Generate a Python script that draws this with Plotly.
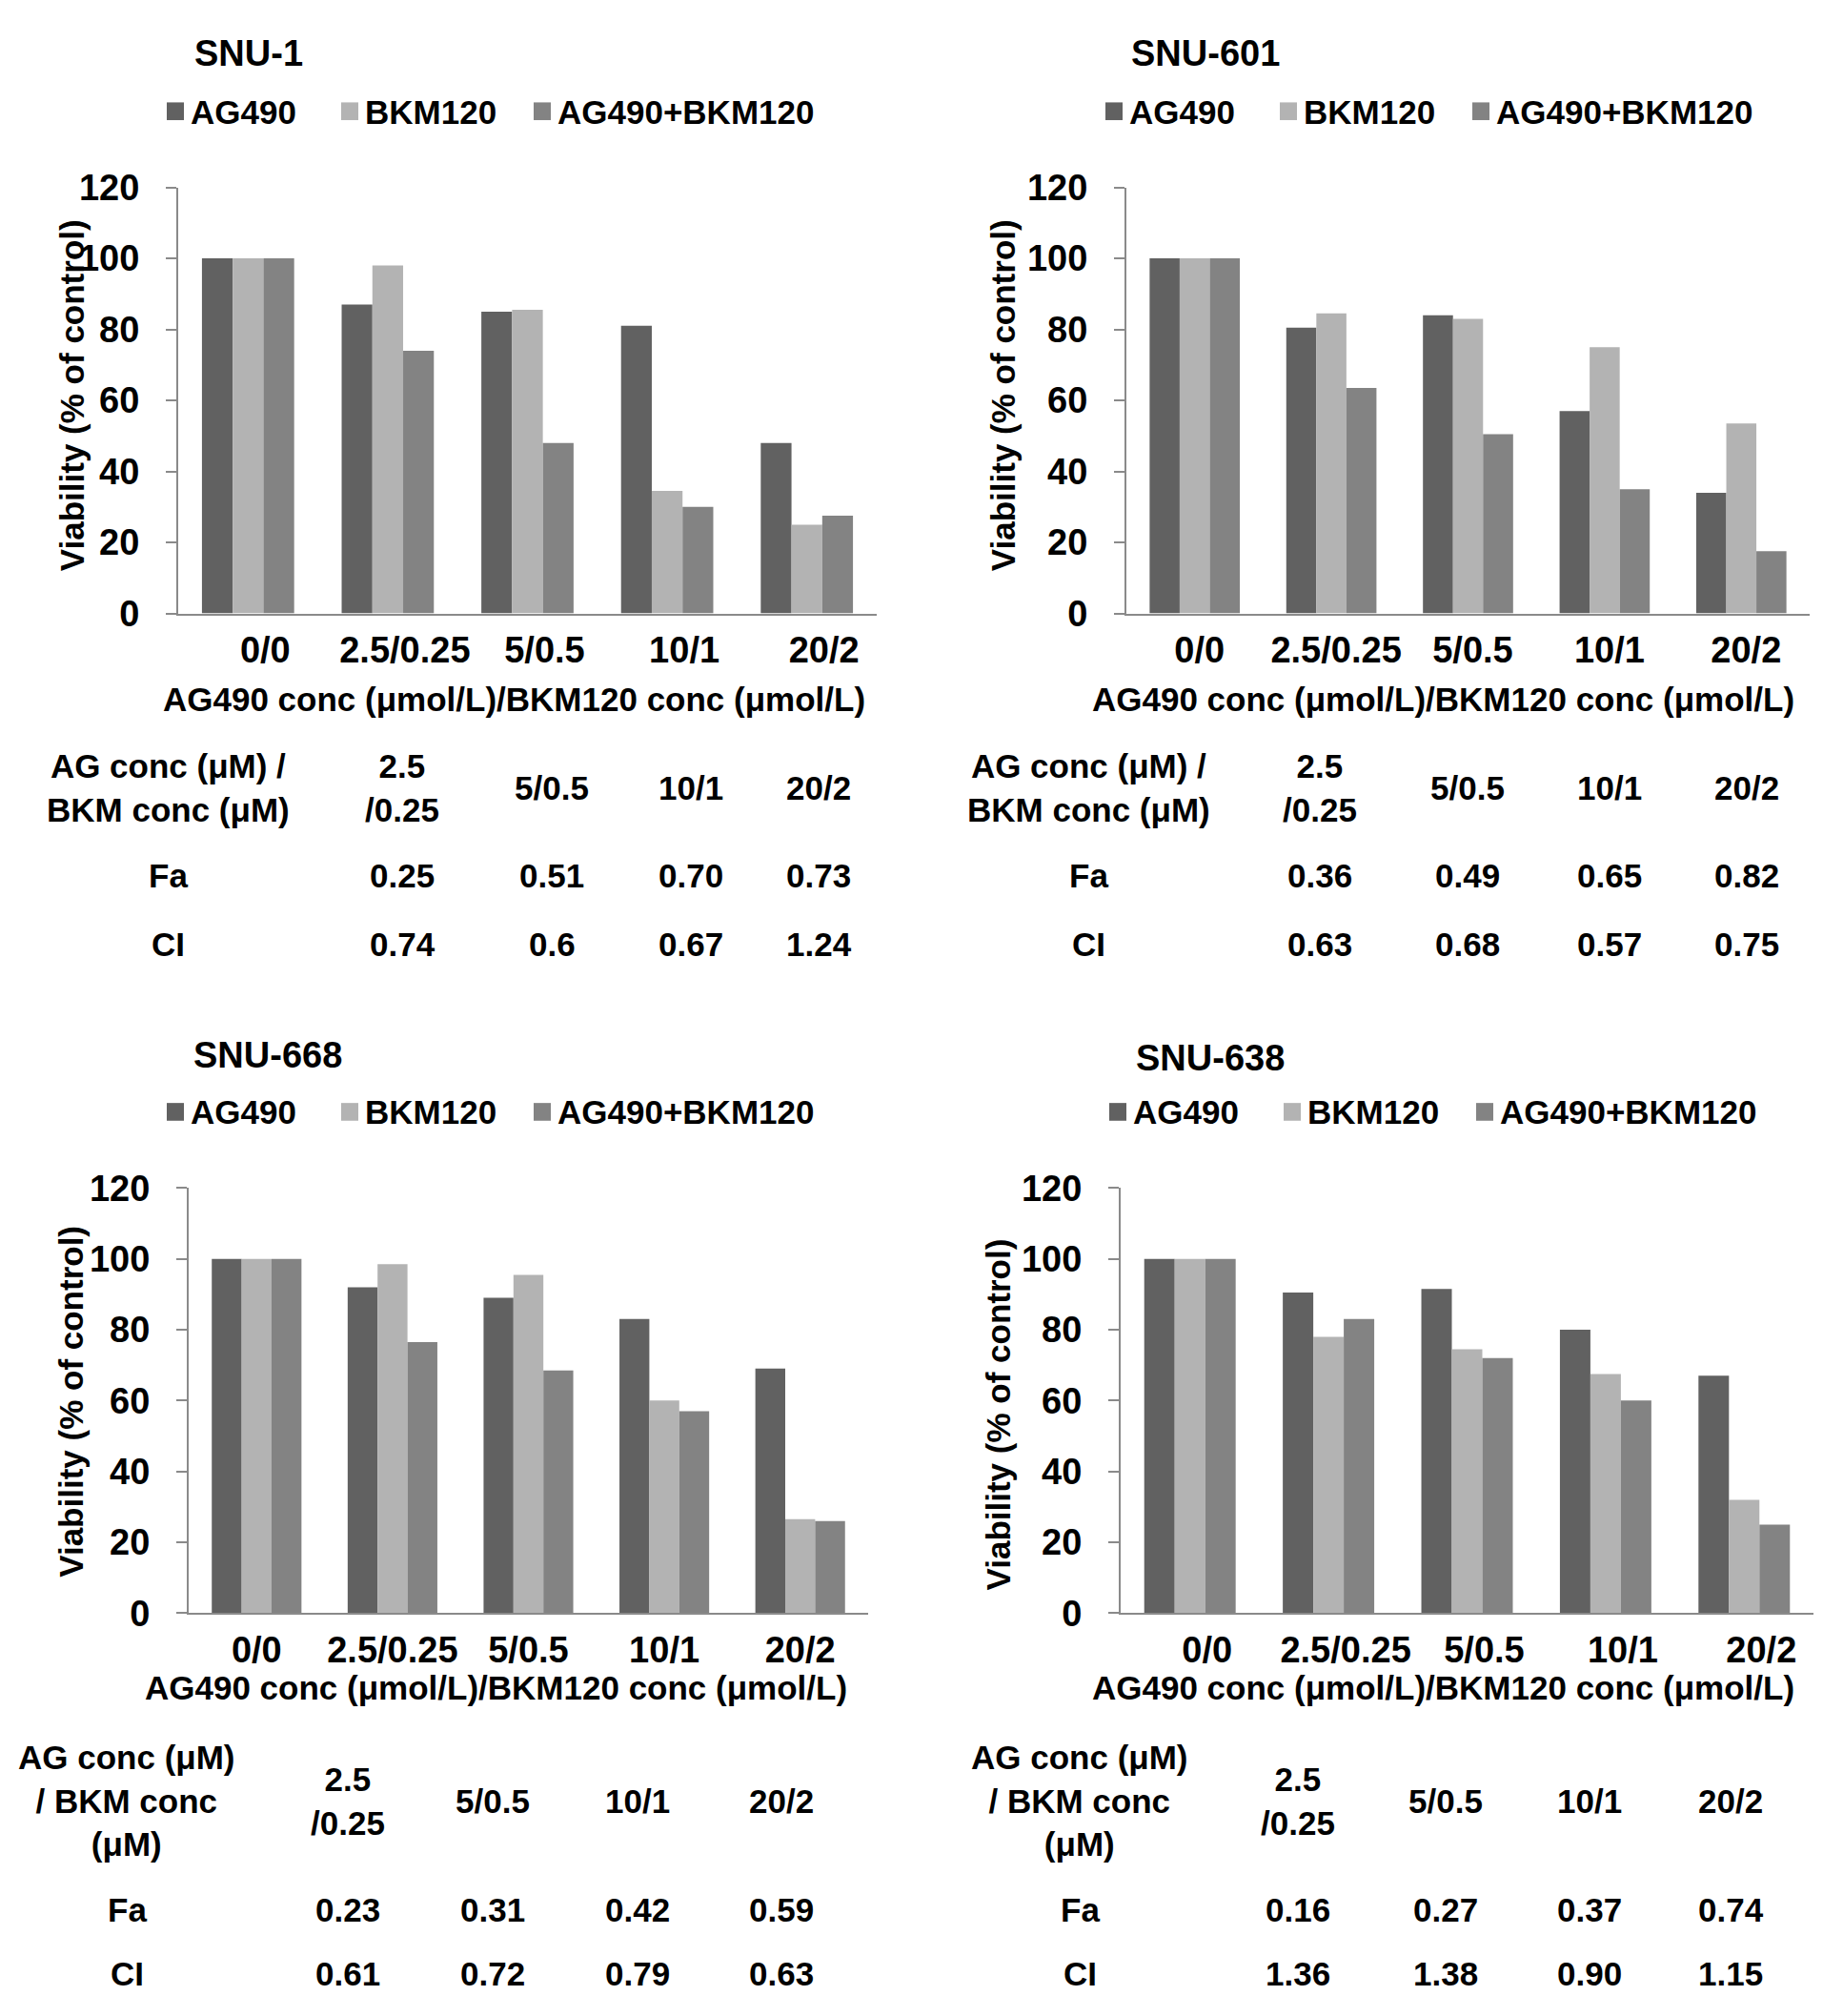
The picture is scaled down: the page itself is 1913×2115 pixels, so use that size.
import plotly.graph_objects as go

# canvas size in px
W, H = 1913, 2115

# data
categories = ["0/0", "2.5/0.25", "5/0.5", "10/1", "20/2"]
series_names = ["AG490", "BKM120", "AG490+BKM120"]
series_colors = ["#616161", "#b3b3b3", "#838383"]
cell_lines = ["SNU-1", "SNU-601", "SNU-668", "SNU-638"]

snu1_ag490 = [100, 87, 85, 81, 48]
snu1_bkm120 = [100, 98, 85.5, 34.5, 25]
snu1_combo = [100, 74, 48, 30, 27.5]

snu601_ag490 = [100, 80.5, 84, 57, 34]
snu601_bkm120 = [100, 84.5, 83, 75, 53.5]
snu601_combo = [100, 63.5, 50.5, 35, 17.5]

snu668_ag490 = [100, 92, 89, 83, 69]
snu668_bkm120 = [100, 98.5, 95.5, 60, 26.5]
snu668_combo = [100, 76.5, 68.5, 57, 26]

snu638_ag490 = [100, 90.5, 91.5, 80, 67]
snu638_bkm120 = [100, 78, 74.5, 67.5, 32]
snu638_combo = [100, 83, 72, 60, 25]

table_cols = ["2.5<br>/0.25", "5/0.5", "10/1", "20/2"]
snu1_fa = ["0.25", "0.51", "0.70", "0.73"]
snu1_ci = ["0.74", "0.6", "0.67", "1.24"]
snu601_fa = ["0.36", "0.49", "0.65", "0.82"]
snu601_ci = ["0.63", "0.68", "0.57", "0.75"]
snu668_fa = ["0.23", "0.31", "0.42", "0.59"]
snu668_ci = ["0.61", "0.72", "0.79", "0.63"]
snu638_fa = ["0.16", "0.27", "0.37", "0.74"]
snu638_ci = ["1.36", "1.38", "0.90", "1.15"]

y_title = "Viability (% of control)"
x_title = "AG490 conc (μmol/L)/BKM120 conc (μmol/L)"
head_top = "AG conc (μM) /<br>BKM conc (μM)"
head_bottom = "AG conc (μM)<br>/ BKM conc<br>(μM)"

values = [
    [snu1_ag490, snu1_bkm120, snu1_combo],
    [snu601_ag490, snu601_bkm120, snu601_combo],
    [snu668_ag490, snu668_bkm120, snu668_combo],
    [snu638_ag490, snu638_bkm120, snu638_combo],
]
fa_rows = [snu1_fa, snu601_fa, snu668_fa, snu638_fa]
ci_rows = [snu1_ci, snu601_ci, snu668_ci, snu638_ci]


def fx(px):
    return px / W


def fy(py):
    return 1 - py / H


FONT = "Liberation Sans, Arial, sans-serif"
AXIS_GRAY = "#8a8a8a"

# pixel layout of each panel
layout_px = [
    dict(l=179, r=912, y0=627, y1=171, title=(253, 28), sw=[167, 350, 552], leg_y=90,
         shift=18, ytit=(67, 394), xtit=(531, 719), head=head_top, head_y=814,
         lab_x=168, cols=[414, 571, 717, 851], fa_y=908, ci_y=981),
    dict(l=1174, r=1891, y0=627, y1=171, title=(1257, 28), sw=[1152, 1335, 1537], leg_y=90,
         shift=5, ytit=(1044, 394), xtit=(1506, 719), head=head_top, head_y=814,
         lab_x=1134, cols=[1377, 1532, 1681, 1825], fa_y=908, ci_y=981),
    dict(l=190, r=903, y0=1697, y1=1242, title=(273, 1100), sw=[167, 350, 552], leg_y=1161,
         shift=0, ytit=(67, 1471), xtit=(512, 1777), head=head_bottom, head_y=1898,
         lab_x=125, cols=[357, 509, 661, 812], fa_y=2014, ci_y=2083),
    dict(l=1168, r=1895, y0=1697, y1=1242, title=(1262, 1103), sw=[1156, 1339, 1541], leg_y=1161,
         shift=18, ytit=(1040, 1485), xtit=(1506, 1777), head=head_bottom, head_y=1898,
         lab_x=1125, cols=[1354, 1509, 1660, 1808], fa_y=2014, ci_y=2083),
]

fig = go.Figure()
annotations = []
shapes = []
layout = {}


def note(text, xy, size=35, angle=0, xanchor="center"):
    annotations.append(dict(
        text=text, x=fx(xy[0]), y=fy(xy[1]), xref="paper", yref="paper",
        xanchor=xanchor, yanchor="middle", showarrow=False, textangle=angle,
        font=dict(family=FONT, size=size, color="black", weight="bold"),
    ))


for i, p in enumerate(layout_px):
    n = "" if i == 0 else str(i + 1)
    for name, color, vals in zip(series_names, series_colors, values[i]):
        fig.add_trace(go.Bar(
            x=categories, y=vals, name=name, marker_color=color,
            marker_line_width=0, xaxis=f"x{n}", yaxis=f"y{n}", showlegend=False,
        ))

    layout[f"xaxis{n}"] = dict(
        domain=[fx(p["l"]), fx(p["r"])], anchor=f"y{n}", type="category",
        showline=True, linecolor=AXIS_GRAY, linewidth=2, ticks="",
        showgrid=False, ticklabelshift=p["shift"], ticklabelstandoff=4,
        tickfont=dict(family=FONT, size=38, color="black", weight="bold"),
    )
    layout[f"yaxis{n}"] = dict(
        domain=[fy(p["y0"]), fy(p["y1"])], anchor=f"x{n}", range=[0, 120],
        dtick=20, showline=True, linecolor=AXIS_GRAY, linewidth=2,
        ticks="outside", ticklen=11, tickwidth=2, tickcolor=AXIS_GRAY,
        showgrid=False, zeroline=False, ticklabelstandoff=20,
        tickfont=dict(family=FONT, size=38, color="black", weight="bold"),
    )

    # legend row: square swatch + label, as in the original
    for left, name, color in zip(p["sw"], series_names, series_colors):
        yc = p["leg_y"]
        shapes.append(dict(
            type="rect", xref="paper", yref="paper",
            x0=fx(left), x1=fx(left + 18), y0=fy(yc + 9), y1=fy(yc - 10),
            fillcolor=color, line_width=0,
        ))
        note(name, (left + 23, yc), xanchor="left")

    note(cell_lines[i], p["title"], size=38)
    note(y_title, p["ytit"], angle=-90)
    note(x_title, p["xtit"])

    # Fa / CI table under each chart
    note(p["head"], (p["lab_x"], p["head_y"]))
    note("Fa", (p["lab_x"], p["fa_y"]))
    note("CI", (p["lab_x"], p["ci_y"]))
    for cx, col, fa, ci in zip(p["cols"], table_cols, fa_rows[i], ci_rows[i]):
        note(col, (cx, p["head_y"]))
        note(fa, (cx, p["fa_y"]))
        note(ci, (cx, p["ci_y"]))

fig.update_layout(
    width=W, height=H,
    margin=dict(l=0, r=0, t=0, b=0),
    paper_bgcolor="white", plot_bgcolor="white",
    barmode="group", bargap=0.34, bargroupgap=0,
    showlegend=False,
    annotations=annotations,
    shapes=shapes,
    **layout,
)

fig.write_html("out.html")
